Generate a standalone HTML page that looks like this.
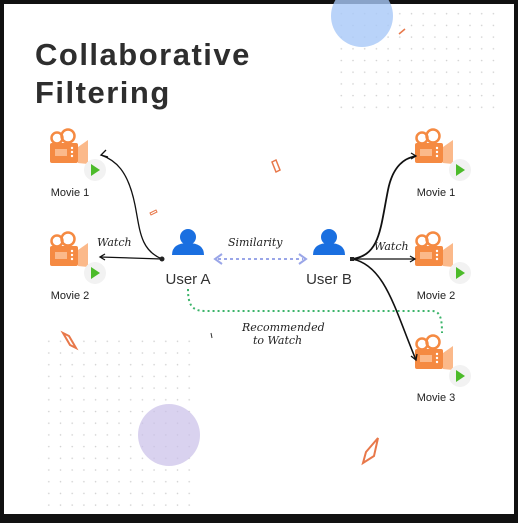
<!DOCTYPE html>
<html><head><meta charset="utf-8"><style>
html,body{margin:0;padding:0;background:#111;}
body{width:518px;height:518px;overflow:hidden;}
</style></head><body>
<svg width="518" height="518" viewBox="0 0 518 518" xmlns="http://www.w3.org/2000/svg">
<defs>
<pattern id="dots" width="11.7" height="11.7" patternUnits="userSpaceOnUse"><circle cx="2" cy="2" r="0.8" fill="#cfcfcf"/></pattern>
<g id="cam">
 <circle cx="7" cy="10" r="5.5" fill="none" stroke="#f58a42" stroke-width="2.5"/>
 <circle cx="18" cy="8" r="6.5" fill="none" stroke="#f58a42" stroke-width="2.5"/>
 <rect x="0" y="15" width="28" height="20" rx="2" fill="#f58a42"/>
 <rect x="5" y="21" width="12" height="7" fill="#fbb98a"/>
 <circle cx="22" cy="20" r="1.2" fill="#fff"/><circle cx="22" cy="24" r="1.2" fill="#fff"/><circle cx="22" cy="28" r="1.2" fill="#fff"/>
 <polygon points="28,19 38,12 38,36 28,35" fill="#fbb98a"/>
 <circle cx="45" cy="42" r="11" fill="#f2f2f2"/>
 <polygon points="41,36 41,48 50,42" fill="#4cbb2a"/>
</g>
<g id="user">
 <circle cx="0" cy="-8" r="8" fill="#1a6fe0"/>
 <path d="M-16,10 Q-16,-2 0,-2 Q16,-2 16,10 Z" fill="#1a6fe0"/>
</g>
</defs>
<rect x="4" y="4" width="510" height="510" fill="#fff"/>
<rect x="335" y="5" width="160" height="112" fill="url(#dots)"/>
<rect x="38" y="335" width="160" height="179" fill="url(#dots)"/>
<circle cx="362" cy="16" r="31" fill="#a7c8f7" opacity="0.8"/>
<circle cx="169" cy="435" r="31" fill="#c9bfe8" opacity="0.7"/>
<line x1="399" y1="34" x2="405" y2="29" stroke="#e8784a" stroke-width="1.5"/>
<polygon points="272,162 276,160 280,170 276,172" fill="none" stroke="#e8784a" stroke-width="1.5"/>
<polygon points="150,213 156,210 157,212 151,215" fill="none" stroke="#e8784a" stroke-width="1"/>
<polygon points="63,333 69,336 76,348 70,345" fill="none" stroke="#e8784a" stroke-width="2"/>
<polygon points="366,452 378,438 374,456 363,463" fill="none" stroke="#e8784a" stroke-width="2"/>
<line x1="211" y1="333" x2="212" y2="338" stroke="#333" stroke-width="1"/>
<text x="35" y="65" font-family="Liberation Sans, sans-serif" font-weight="bold" font-size="31" fill="#2e2e2e" letter-spacing="1.5">Collaborative</text>
<text x="35" y="103" font-family="Liberation Sans, sans-serif" font-weight="bold" font-size="31" fill="#2e2e2e" letter-spacing="1.5">Filtering</text>
<use href="#cam" x="50" y="128"/>
<use href="#cam" x="50" y="231"/>
<use href="#cam" x="415" y="128"/>
<use href="#cam" x="415" y="231"/>
<use href="#cam" x="415" y="334"/>
<g font-family="Liberation Sans, sans-serif" font-size="11" fill="#222" text-anchor="middle">
<text x="70" y="196">Movie 1</text><text x="70" y="299">Movie 2</text>
<text x="436" y="196">Movie 1</text><text x="436" y="299">Movie 2</text><text x="436" y="401">Movie 3</text>
</g>
<use href="#user" x="188" y="245"/>
<use href="#user" x="329" y="245"/>
<g font-family="Liberation Sans, sans-serif" font-size="15" fill="#333" text-anchor="middle">
<text x="188" y="284">User A</text><text x="329" y="284">User B</text>
</g>
<g fill="none" stroke="#111" stroke-width="1.3">
<path d="M162,259 C140,250 140,230 135,205 C128,170 115,160 101,155"/>
<path d="M106,150 L101,155 L108,157"/>
<path d="M162,259 L100,257"/><path d="M105,254 L100,257 L105,260"/>
<path d="M352,259 C380,255 380,230 388,190 C393,165 405,158 416,156" stroke-width="1.8"/>
<path d="M411,153 L416,156 L411,159"/>
<path d="M352,259 L415,259"/><path d="M410,256 L415,259 L410,262"/>
<path d="M352,259 C385,265 395,310 416,360" stroke-width="1.6"/>
<path d="M411,356 L416,360 L417,354"/>
</g>
<circle cx="162" cy="259" r="2.5" fill="#222"/>
<rect x="350" y="257" width="4" height="4" fill="#222"/>
<line x1="218" y1="259" x2="303" y2="259" stroke="#9aa6e8" stroke-width="2" stroke-dasharray="3,3"/>
<path d="M222,254 L215,259 L222,264 M299,254 L306,259 L299,264" fill="none" stroke="#9aa6e8" stroke-width="2"/>
<path d="M188,289 C188,305 192,311 205,311 L432,311 C440,311 442,318 442,333" fill="none" stroke="#3cb46a" stroke-width="2" stroke-dasharray="2,3"/>
<g font-family="'Comic Sans MS', 'DejaVu Serif', cursive" font-style="italic" font-size="11" fill="#222">
<text x="97" y="246">Watch</text>
<text x="228" y="246">Similarity</text>
<text x="374" y="250">Watch</text>
<text x="242" y="331">Recommended</text>
<text x="253" y="344">to Watch</text>
</g>
</svg>
</body></html>
